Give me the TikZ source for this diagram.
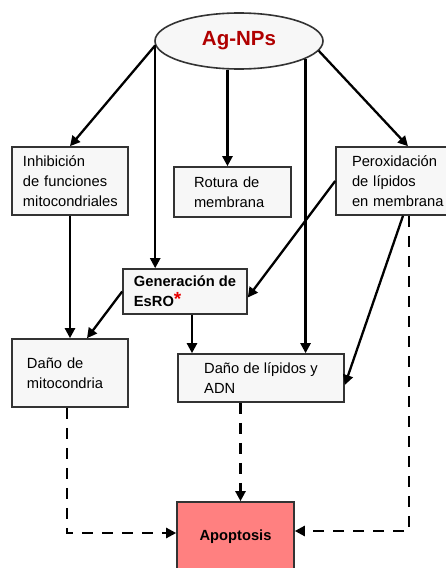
\documentclass[tikz,border=0pt]{standalone}
\usepackage{fontspec}
\setmainfont{Liberation Sans}
\usetikzlibrary{arrows.meta}
\usetikzlibrary{shapes.geometric}
\definecolor{boxfill}{HTML}{F7F7F7}
\definecolor{boxline}{HTML}{333333}
\definecolor{agred}{HTML}{B00000}
\definecolor{astred}{HTML}{E80000}
\definecolor{apopfill}{HTML}{FF8080}
\def\Inhibicion{Inhibición\\de funciones\\mitocondriales}
\def\Rotura{Rotura de\\membrana}
\def\Peroxidacion{Peroxidación\\de lípidos\\en membrana}
\def\Generacion{\bfseries Generación de\\\bfseries
  EsRO{\color{astred}\fontsize{19}{20}\selectfont\raisebox{1pt}{*}}}
\def\DanoLipidos{Daño de lípidos y\\ADN}
\def\DanoMito{Daño de\\mitocondria}

\begin{document}
\begin{tikzpicture}[x=1pt, y=-1pt,
                    every node/.style={font=\fontsize{14.7}{20}\selectfont},
                    box/.style={draw=boxline, fill=boxfill, line width=1.6pt,
                                align=left, inner ysep=2pt},
                    link/.style={line width=2.3pt,
                                 -{Triangle[length=10pt,width=10pt]}},
                    dashlink/.style={link, dash pattern=on 11pt off 9pt}]
    \useasboundingbox (0,0) rectangle (446,568);

    \node[ellipse, draw=boxline, fill=boxfill, line width=1.6pt,
          minimum width=168pt, minimum height=56pt, inner sep=0pt,
          text=agred, font=\fontsize{20.5}{24}\selectfont\bfseries]
          (ag) at (239,41) {Ag-NPs};

    \node[box, minimum height=68pt, inner xsep=11pt, text width=94pt]
          (inhib) at (70,181) {\Inhibicion};
    \node[box, minimum height=50pt, inner xsep=20pt, text width=77pt]
          (rot) at (232.5,192) {\Rotura};
    \node[box, minimum height=68pt, inner xsep=16pt, text width=92pt]
          (perox) at (398,181) {\Peroxidacion};
    \node[box, minimum width=124pt, minimum height=45pt]
          (gen) at (185,291.5) {\Generacion};
    \node[box, minimum width=166pt, minimum height=48pt]
          (lip) at (261,378) {\DanoLipidos};
    \node[box, minimum height=68pt, inner xsep=15pt, text width=86pt]
          (mito) at (70,373) {\DanoMito};
    \node[box, fill=apopfill, minimum width=117pt, minimum height=70pt,
          align=center, font=\fontsize{14.7}{20}\selectfont\bfseries]
          (apop) at (235.5,537) {Apoptosis};

    % from the nanoparticles
    \draw[link] (ag.183) -- (inhib.north);
    \draw[link] (ag.183) -- (ag.183 |- gen.north);
    \draw[link] (ag.-112) -- (ag.-112 |- rot.north);
    \draw[link] (ag.-15) -- (ag.-15 |- lip.north);
    \draw[link] (ag.-7) -- ([xshift=10pt]perox.north);

    % middle level
    \draw[link] (inhib.south) -- (mito.north);
    \draw[link] (gen.west) -- ([xshift=17pt]mito.north);
    \draw[link] (perox.west) -- ([yshift=-6pt]gen.east);
    \draw[link] ([xshift=7pt]gen.south) -- ([xshift=7pt]gen.south |- lip.north);
    \draw[link] ([xshift=5pt]perox.south) -- ([yshift=-7pt]lip.east);

    % towards apoptosis
    \draw[dashlink] ([xshift=-3pt]mito.south) |- ([yshift=4pt]apop.west);
    \draw[dashlink] ([xshift=5pt]apop.north |- lip.south) -- ([xshift=5pt]apop.north);
    \draw[dashlink] ([xshift=11pt]perox.south) |- ([yshift=6pt]apop.east);
\end{tikzpicture}
\end{document}
